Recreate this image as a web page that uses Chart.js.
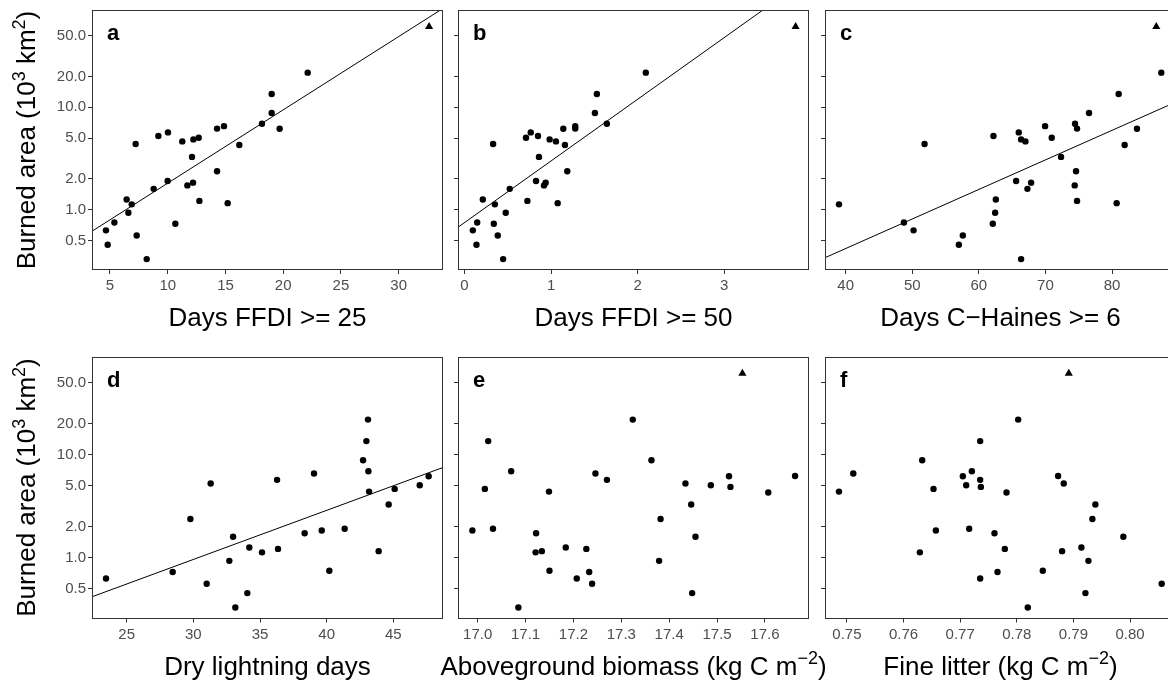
<!DOCTYPE html>
<html>
<head>
<meta charset="utf-8">
<script src="https://cdn.jsdelivr.net/npm/chart.js@4.4.1/dist/chart.umd.min.js"></script>
<style>
  html, body { margin: 0; padding: 0; background: #fff; overflow: hidden; width: 1168px; height: 682px; position: relative; }
  canvas { position: absolute; }
</style>
</head>
<body>
<canvas id="pa"></canvas>
<canvas id="pb"></canvas>
<canvas id="pc"></canvas>
<canvas id="pd"></canvas>
<canvas id="pe"></canvas>
<canvas id="pf"></canvas>
<script>
// Burned area per year (10^3 km2), one entry per season, same order in every x array
const burned = [0.33, 0.455, 0.56, 0.63, 0.73, 0.75, 0.935, 1.13, 1.16, 1.22, 1.26, 1.6, 1.73, 1.84, 1.91,
                2.38, 3.28, 4.29, 4.38, 4.65, 4.86, 5.05, 5.24, 5.69, 6.17, 6.2, 6.55, 6.9, 8.81, 13.5, 21.8];
const outlierBurned = 61.2;   // the triangle (extreme season)

const ffdi25 = [8.18, 4.8, 7.31, 4.65, 10.66, 5.38, 6.59, 6.88, 15.19, 12.74, 6.44, 8.78, 11.7, 12.19, 9.99,
                14.27, 12.1, 16.2, 7.22, 11.26, 12.22, 12.68, 9.19, 10.02, 19.69, 14.27, 14.87, 18.16, 19.0, 19.0, 22.12];
const ffdi50 = [0.446, 0.138, 0.384, 0.096, 0.338, 0.146, 0.476, 0.35, 1.076, 0.726, 0.211, 0.522, 0.918, 0.937, 0.826,
                1.187, 0.86, 1.16, 0.33, 1.056, 0.983, 0.71, 0.849, 0.765, 1.141, 1.279, 1.279, 1.644, 1.506, 1.529, 2.094];
const haines = [66.35, 57.0, 57.6, 50.2, 62.1, 48.75, 62.45, 39.0, 80.7, 74.75, 62.55, 67.3, 74.4, 67.85, 65.6,
                74.6, 72.35, 81.9, 51.85, 67.0, 66.35, 70.95, 62.2, 66.0, 83.75, 74.75, 69.95, 74.45, 76.55, 81.0, 87.4];
const lightning = [33.15, 34.05, 31.0, 23.45, 28.45, 40.2, 32.7, 35.15, 43.9, 36.35, 34.2, 32.98, 38.35, 39.63, 41.35,
                   29.78, 44.65, null, 43.18, 45.1, null, 46.98, 31.3, 36.28, 47.65, null, 39.05, 43.13, 42.73, 42.98, 43.1];
const biomass = [17.085, 17.448, 17.239, 17.207, 17.233, 17.150, 17.379, 17.121, 17.134, 17.227, 17.184, 17.455, 17.122, 16.989, 17.032,
                 17.382, 17.446, 17.607, 17.149, 17.015, 17.528, 17.487, 17.434, 17.270, 17.525, 17.663, 17.246, 17.070, 17.363, 17.022, 17.324];
const litter = [0.78194, 0.79212, 0.80559, 0.77353, 0.77659, 0.78459, 0.79265, 0.76288, 0.788, 0.77788, 0.79141, 0.79882, 0.77606, 0.76571, 0.77159,
                0.79335, 0.79388, 0.77818, 0.74859, 0.76529, 0.77365, 0.77106, 0.78829, 0.77353, 0.77047, 0.78729, 0.75112, 0.77206, 0.76329, 0.77353, 0.78024];

// x of the outlier season in each panel (no value for lightning)
const outlierX = [32.63, 3.825, 86.65, null, 17.553, 0.78918];

// fitted log10(area) = intercept + slope * x  (panels a-d)
const fitIntercept = [-0.4555, -0.125, -1.532, -1.443];
const fitSlope = [0.07154, 0.6018, 0.02884, 0.04757];

// tick labels
const yTicks = [0.5, 1, 2, 5, 10, 20, 50];
const yTickLabels = ['0.5', '1.0', '2.0', '5.0', '10.0', '20.0', '50.0'];
const xTicksA = [5, 10, 15, 20, 25, 30];
const xTicksB = [0, 1, 2, 3];
const xTicksC = [40, 50, 60, 70, 80];
const xTicksD = [25, 30, 35, 40, 45];
const xTicksE = [17.0, 17.1, 17.2, 17.3, 17.4, 17.5, 17.6];
const xTicksF = [0.75, 0.76, 0.77, 0.78, 0.79, 0.80];

const panelLetters = ['a', 'b', 'c', 'd', 'e', 'f'];

const FONT = '"Liberation Sans", Arial, Helvetica, sans-serif';
const MINUS = '\u2212';
const TITLE_SIZE = 26;

// panel setup: canvas box and plot box in page pixels
const panels = [
  { id: 'pa', x: ffdi25,    ticks: xTicksA, dec: 0, min: 3.528,  max: 33.75,  canvas: [0, 0, 450, 340],     plot: [93, 9, 442, 269],       ylab: true,
    title: [['Days FFDI >= 25', 0]] },
  { id: 'pb', x: ffdi50,    ticks: xTicksB, dec: 0, min: -0.064, max: 3.968,  canvas: [430, 0, 410, 340],   plot: [459, 9, 808, 269],      ylab: false,
    title: [['Days FFDI >= 50', 0]] },
  { id: 'pc', x: haines,    ticks: xTicksC, dec: 0, min: 37.05,  max: 89.46,  canvas: [812, 0, 378, 340],   plot: [826, 9, 1175, 269],     ylab: false,
    title: [['Days C' + MINUS + 'Haines >= 6', 0]] },
  { id: 'pd', x: lightning, ticks: xTicksD, dec: 0, min: 22.475, max: 48.65,  canvas: [0, 340, 450, 342],   plot: [93, 357.5, 442, 617.5], ylab: true,
    title: [['Dry lightning days', 0]] },
  { id: 'pe', x: biomass,   ticks: xTicksE, dec: 1, min: 16.961, max: 17.69,  canvas: [420, 340, 430, 342], plot: [459, 357.5, 808, 617.5], ylab: false,
    title: [['Aboveground biomass (kg C m', 0], [MINUS + '2', 1], [')', 0]] },
  { id: 'pf', x: litter,    ticks: xTicksF, dec: 2, min: 0.7463, max: 0.80794, canvas: [812, 340, 378, 342], plot: [826, 357.5, 1175, 617.5], ylab: false,
    title: [['Fine litter (kg C m', 0], [MINUS + '2', 1], [')', 0]] }
];

const yTitle = [['Burned area (10', 0], ['3', 1], [' km', 0], ['2', 1], [')', 0]];

function drawParts(ctx, parts, cx, y, size) {
  let total = 0;
  const items = parts.map(([t, sup]) => {
    ctx.font = (sup ? Math.round(size * 0.7) : size) + 'px ' + FONT;
    const w = ctx.measureText(t).width;
    total += w;
    return { t, sup, w };
  });
  let x = cx - total / 2;
  ctx.textAlign = 'left';
  ctx.textBaseline = 'alphabetic';
  items.forEach(it => {
    ctx.font = (it.sup ? Math.round(size * 0.7) : size) + 'px ' + FONT;
    ctx.fillText(it.t, x, it.sup ? y - size * 0.4 : y);
    x += it.w;
  });
}

// box, panel letter and titles
const decor = {
  id: 'decor',
  afterDraw(chart, args, o) {
    const { ctx, chartArea: a } = chart;
    ctx.save();
    ctx.strokeStyle = '#333';
    ctx.lineWidth = 1;
    ctx.strokeRect(Math.round(a.left) - 0.5, Math.round(a.top) - 0.5,
                   Math.round(a.right - a.left) + 1, Math.round(a.bottom - a.top) + 1);
    ctx.fillStyle = '#000';
    ctx.font = 'bold 22px ' + FONT;
    ctx.textAlign = 'left';
    ctx.textBaseline = 'alphabetic';
    ctx.fillText(o.letter, a.left + 14, a.top + 29);
    drawParts(ctx, o.title, (a.left + a.right) / 2, a.bottom + 57, TITLE_SIZE);
    if (o.ylab) {
      ctx.translate(35, (a.top + a.bottom) / 2);
      ctx.rotate(-Math.PI / 2);
      drawParts(ctx, yTitle, 0, 0, TITLE_SIZE);
    }
    ctx.restore();
  }
};

panels.forEach((p, i) => {
  const cv = document.getElementById(p.id);
  const [cx, cy, cw, ch] = p.canvas;
  const [x1, y1, x2, y2] = p.plot;
  cv.width = cw; cv.height = ch;
  cv.style.left = cx + 'px'; cv.style.top = cy + 'px';
  cv.style.width = cw + 'px'; cv.style.height = ch + 'px';

  const yw = p.ylab ? 93 : 8;
  const xh = cy + ch - y2;

  const pts = [];
  p.x.forEach((v, k) => { if (v !== null) pts.push({ x: v, y: burned[k] }); });

  const datasets = [{
    type: 'scatter', data: pts, backgroundColor: '#000', borderWidth: 0,
    pointRadius: 3.2, pointHoverRadius: 3.2
  }];
  if (outlierX[i] !== null) {
    datasets.push({
      type: 'scatter', data: [{ x: outlierX[i], y: outlierBurned }], pointStyle: 'triangle',
      backgroundColor: '#000', borderWidth: 0, pointRadius: 4.7, pointHoverRadius: 4.7
    });
  }
  if (i < fitSlope.length) {
    const f = x => Math.pow(10, fitIntercept[i] + fitSlope[i] * x);
    datasets.push({
      type: 'line', data: [{ x: p.min, y: f(p.min) }, { x: p.max, y: f(p.max) }],
      borderColor: '#000', borderWidth: 1, pointRadius: 0, fill: false, tension: 0
    });
  }

  const tickFont = { family: FONT, size: 15 };
  new Chart(cv, {
    data: { datasets },
    options: {
      responsive: false,
      animation: false,
      devicePixelRatio: 1,
      events: [],
      layout: { padding: { left: x1 - cx - yw, top: y1 - cy, right: cx + cw - x2, bottom: 0 } },
      plugins: {
        legend: { display: false },
        tooltip: { enabled: false },
        decor: { letter: panelLetters[i], title: p.title, ylab: p.ylab }
      },
      scales: {
        x: {
          type: 'linear', min: p.min, max: p.max,
          afterBuildTicks: s => { s.ticks = p.ticks.map(v => ({ value: v })); },
          afterFit: s => { s.height = xh; },
          ticks: {
            autoSkip: false, maxRotation: 0, padding: 3, color: '#4d4d4d', font: tickFont,
            callback: (v, k) => p.ticks[k].toFixed(p.dec)
          },
          grid: { display: true, drawOnChartArea: false, drawTicks: true, tickLength: 5, color: '#333', lineWidth: 1 },
          border: { display: false }
        },
        y: {
          type: 'logarithmic', min: 0.2642, max: 87.1,
          afterBuildTicks: s => { s.ticks = yTicks.map(v => ({ value: v })); },
          afterFit: s => { s.width = yw; },
          ticks: {
            autoSkip: false, padding: 2, color: '#4d4d4d', font: tickFont,
            callback: (v, k) => p.ylab ? yTickLabels[k] : ''
          },
          grid: { display: true, drawOnChartArea: false, drawTicks: true, tickLength: 5, color: '#333', lineWidth: 1 },
          border: { display: false }
        }
      }
    },
    plugins: [decor]
  });
});
</script>
</body>
</html>
